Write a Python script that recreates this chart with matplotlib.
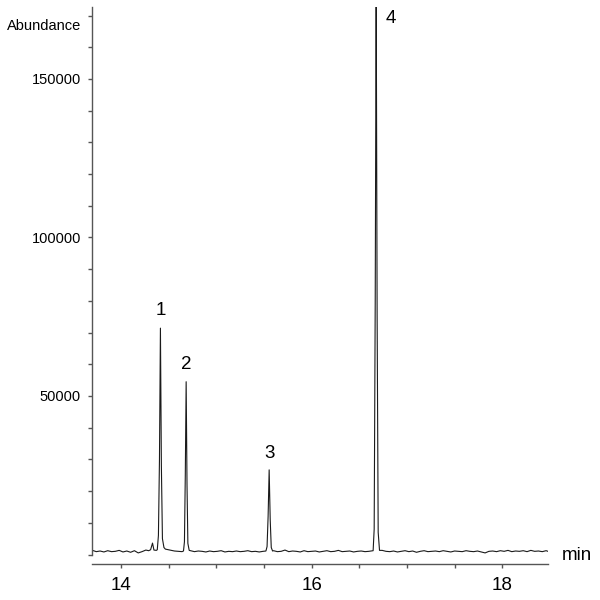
import matplotlib
matplotlib.use("Agg")
import matplotlib.pyplot as plt
import numpy as np

plt.rcParams['font.family'] = ['Liberation Sans', 'DejaVu Sans']

# Baseline (retention time in min, abundance)
base_t = [13.70, 13.74, 13.78, 13.82, 13.86, 13.90, 13.94, 13.98, 14.02, 14.06,
          14.10, 14.14, 14.18, 14.22, 14.26, 14.29,
          14.48, 14.52, 14.56, 14.60, 14.64,
          14.73, 14.77, 14.81, 14.85, 14.89, 14.93, 14.97, 15.01, 15.05, 15.09,
          15.13, 15.17, 15.21, 15.25, 15.29, 15.33, 15.37, 15.41, 15.45, 15.49,
          15.60, 15.64, 15.68, 15.72, 15.76, 15.80, 15.84, 15.88, 15.92, 15.96,
          16.00, 16.04, 16.08, 16.12, 16.16, 16.20, 16.24, 16.28, 16.32, 16.36,
          16.40, 16.44, 16.48, 16.52, 16.56, 16.60, 16.62,
          16.74, 16.78, 16.82, 16.86, 16.90, 16.94, 16.98, 17.02, 17.06, 17.10,
          17.14, 17.18, 17.22, 17.26, 17.30, 17.34, 17.38, 17.42, 17.46, 17.50,
          17.54, 17.58, 17.62, 17.66, 17.70, 17.74, 17.78, 17.82, 17.86, 17.90,
          17.94, 17.98, 18.02, 18.06, 18.10, 18.14, 18.18, 18.22, 18.26, 18.30,
          18.34, 18.38, 18.42, 18.46, 18.48]
base_y = [1300, 900, 1100, 800, 1200, 900, 1000, 1300, 800, 1100,
          700, 1200, 500, 900, 1400, 1200,
          1600, 1300, 1100, 1000, 900,
          1200, 900, 1100, 1000, 800, 1100, 900, 1000, 1200, 800,
          1000, 900, 1100, 900, 1000, 1200, 900, 1000, 800, 1000,
          1200, 900, 1000, 1400, 900, 1100, 1000, 800, 1200, 900,
          1000, 1100, 800, 1000, 1200, 900, 1000, 1300, 900, 1000,
          1100, 800, 1000, 1100, 900, 1000, 1100,
          1300, 1000, 900, 1100, 800, 1000, 1200, 900, 1100, 700,
          1000, 1200, 900, 1000, 1100, 900, 1200, 1000, 800, 1100,
          1000, 900, 1200, 1000, 900, 1100, 800, 500, 1000, 1100,
          900, 1200, 1000, 1300, 900, 1100, 1000, 1200, 900, 1300,
          1000, 1100, 900, 1200, 1000]

# Peak traces (retention time in min, abundance)
peak_t = [14.31, 14.33, 14.345, 14.37, 14.38, 14.392, 14.403, 14.413, 14.423, 14.434, 14.45, 14.465,
          14.655, 14.665, 14.674, 14.683, 14.692, 14.701, 14.715,
          15.52, 15.532, 15.543, 15.554, 15.565, 15.576, 15.59,
          16.645, 16.656, 16.667, 16.677, 16.687, 16.698, 16.712]
peak_y = [1500, 3600, 1400, 1300, 1500, 6000, 30000, 71400, 28000, 5000, 2200, 1700,
          1100, 4000, 25000, 54500, 22000, 3500, 1300,
          1100, 2500, 12000, 26700, 11000, 2200, 1100,
          1200, 8000, 80000, 180000, 75000, 7000, 1300]

peak_labels = ["1", "2", "3", "4"]
label_t = [14.42, 14.68, 15.56, 16.83]
label_y = [77000, 60000, 32000, 169000]

t = np.array(base_t + peak_t)
y = np.array(base_y + peak_y)
order = np.argsort(t)
t, y = t[order], y[order]

fig = plt.figure(figsize=(6, 6), dpi=100)
ax = fig.add_axes([92/600, 1-554.5/600, (548-92)/600, (554.5-7)/600])
ax.plot(t, y, color='#1a1a1a', lw=0.8)
ax.set_xlim(13.695, 18.48)
ax.set_ylim(0, 172700)

for s in ['top', 'right']:
    ax.spines[s].set_visible(False)
ax.spines['bottom'].set_position(('outward', 6.5))
for s in ['left', 'bottom']:
    ax.spines[s].set_color('#555555')
    ax.spines[s].set_linewidth(1.0)

ax.set_xticks([14, 16, 18])
ax.set_xticks(np.arange(14.0, 18.5, 0.5), minor=True)
ax.set_yticks([50000, 100000, 150000])
ax.set_yticks(np.arange(0, 170001, 10000), minor=True)
ax.tick_params(axis='x', which='both', length=3, width=1, color='#555555',
               labelsize=13.5, pad=7)
ax.tick_params(axis='y', which='both', length=3, width=1, color='#555555',
               labelsize=10.5, pad=5)

for lab, lt, ly in zip(peak_labels, label_t, label_y):
    ax.text(lt, ly, lab, ha='center', va='center', fontsize=13.5)

fig.text(81/600, 1-26/600, "Abundance", ha='right', va='center', fontsize=10.5)
fig.text(562/600, 1-555/600, "min", ha='left', va='center', fontsize=13.5)

fig.savefig("out.png", dpi=100)
